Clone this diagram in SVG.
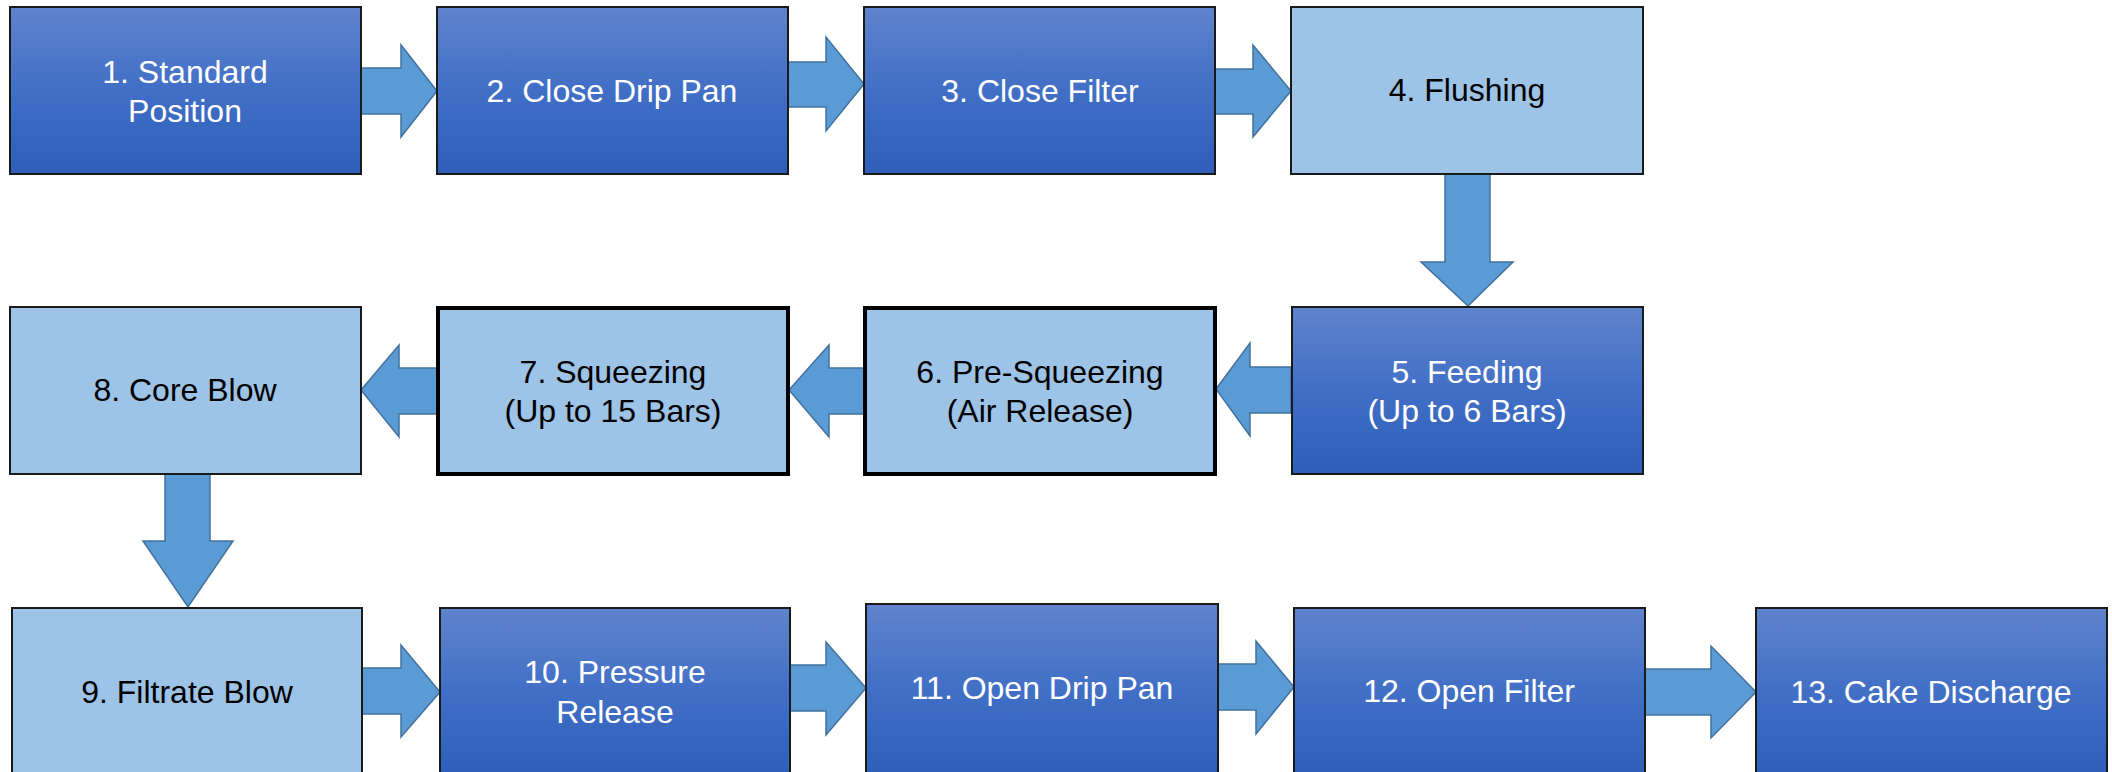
<svg xmlns="http://www.w3.org/2000/svg" width="2112" height="772" viewBox="0 0 2112 772">
<defs>
<linearGradient id="dark" x1="0" y1="0" x2="0" y2="1">
<stop offset="0" stop-color="#5F83CC"/>
<stop offset="0.5" stop-color="#416FC6"/>
<stop offset="1" stop-color="#2E5EB8"/>
</linearGradient>
<style>
.dk{fill:url(#dark);stroke:#1a1a1a;stroke-width:2}
.lt{fill:#9DC3E6;stroke:#1a1a1a;stroke-width:2}
.thick{stroke:#000;stroke-width:4}
.arr{fill:#5B9BD5;stroke:#41719C;stroke-width:1.5;stroke-linejoin:miter}
text{font-family:"Liberation Sans",Arial,sans-serif;font-size:32px;text-anchor:middle}
.w{fill:#FFFFFF}
.b{fill:#000000}
</style>
</defs>
<rect width="2112" height="772" fill="#FFFFFF"/>
<g id="connectors">
<polygon class="arr" points="361,68 401,68 401,45 437,91 401,137 401,114 361,114"/>
<polygon class="arr" points="788,62 826,62 826,37 864,84 826,131 826,107 788,107"/>
<polygon class="arr" points="1215,69 1253,69 1253,45 1291,91 1253,137 1253,114 1215,114"/>
<polygon class="arr" points="1445,174 1490,174 1490,262 1513,262 1468,306 1421,262 1445,262"/>
<polygon class="arr" points="1291,367 1250,367 1250,343 1216,389 1250,436 1250,413 1291,413"/>
<polygon class="arr" points="864,368 829,368 829,345 789,390 829,437 829,414 864,414"/>
<polygon class="arr" points="437,368 399,368 399,345 361,390 399,437 399,414 437,414"/>
<polygon class="arr" points="165,474 210,474 210,541 233,541 188,607 143,541 165,541"/>
<polygon class="arr" points="362,668 401,668 401,645 440,692 401,737 401,714 362,714"/>
<polygon class="arr" points="790,665 826,665 826,642 866,688 826,735 826,711 790,711"/>
<polygon class="arr" points="1218,664 1256,664 1256,641 1294,687 1256,734 1256,710 1218,710"/>
<polygon class="arr" points="1645,669 1711,669 1711,646 1756,692 1711,738 1711,715 1645,715"/>
</g>
<g id="n1"><rect class="dk" x="10" y="7" width="351" height="167"/><text class="w" x="185" y="83">1. Standard</text><text class="w" x="185" y="122">Position</text></g>
<g id="n2"><rect class="dk" x="437" y="7" width="351" height="167"/><text class="w" x="612" y="102">2. Close Drip Pan</text></g>
<g id="n3"><rect class="dk" x="864" y="7" width="351" height="167"/><text class="w" x="1040" y="102">3. Close Filter</text></g>
<g id="n4"><rect class="lt" x="1291" y="7" width="352" height="167"/><text class="b" x="1467" y="101">4. Flushing</text></g>
<g id="n5"><rect class="dk" x="1292" y="307" width="351" height="167"/><text class="w" x="1467" y="383">5. Feeding</text><text class="w" x="1467" y="422">(Up to 6 Bars)</text></g>
<g id="n6"><rect class="lt thick" x="865" y="308" width="350" height="166"/><text class="b" x="1040" y="383">6. Pre-Squeezing</text><text class="b" x="1040" y="422">(Air Release)</text></g>
<g id="n7"><rect class="lt thick" x="438" y="308" width="350" height="166"/><text class="b" x="613" y="383">7. Squeezing</text><text class="b" x="613" y="422">(Up to 15 Bars)</text></g>
<g id="n8"><rect class="lt" x="10" y="307" width="351" height="167"/><text class="b" x="185" y="401">8. Core Blow</text></g>
<g id="n9"><rect class="lt" x="12" y="608" width="350" height="170"/><text class="b" x="187" y="703">9. Filtrate Blow</text></g>
<g id="n10"><rect class="dk" x="440" y="608" width="350" height="170"/><text class="w" x="615" y="683">10. Pressure</text><text class="w" x="615" y="723">Release</text></g>
<g id="n11"><rect class="dk" x="866" y="604" width="352" height="174"/><text class="w" x="1042" y="699">11. Open Drip Pan</text></g>
<g id="n12"><rect class="dk" x="1294" y="608" width="351" height="170"/><text class="w" x="1469" y="702">12. Open Filter</text></g>
<g id="n13"><rect class="dk" x="1756" y="608" width="351" height="170"/><text class="w" x="1931" y="703">13. Cake Discharge</text></g>
</svg>
